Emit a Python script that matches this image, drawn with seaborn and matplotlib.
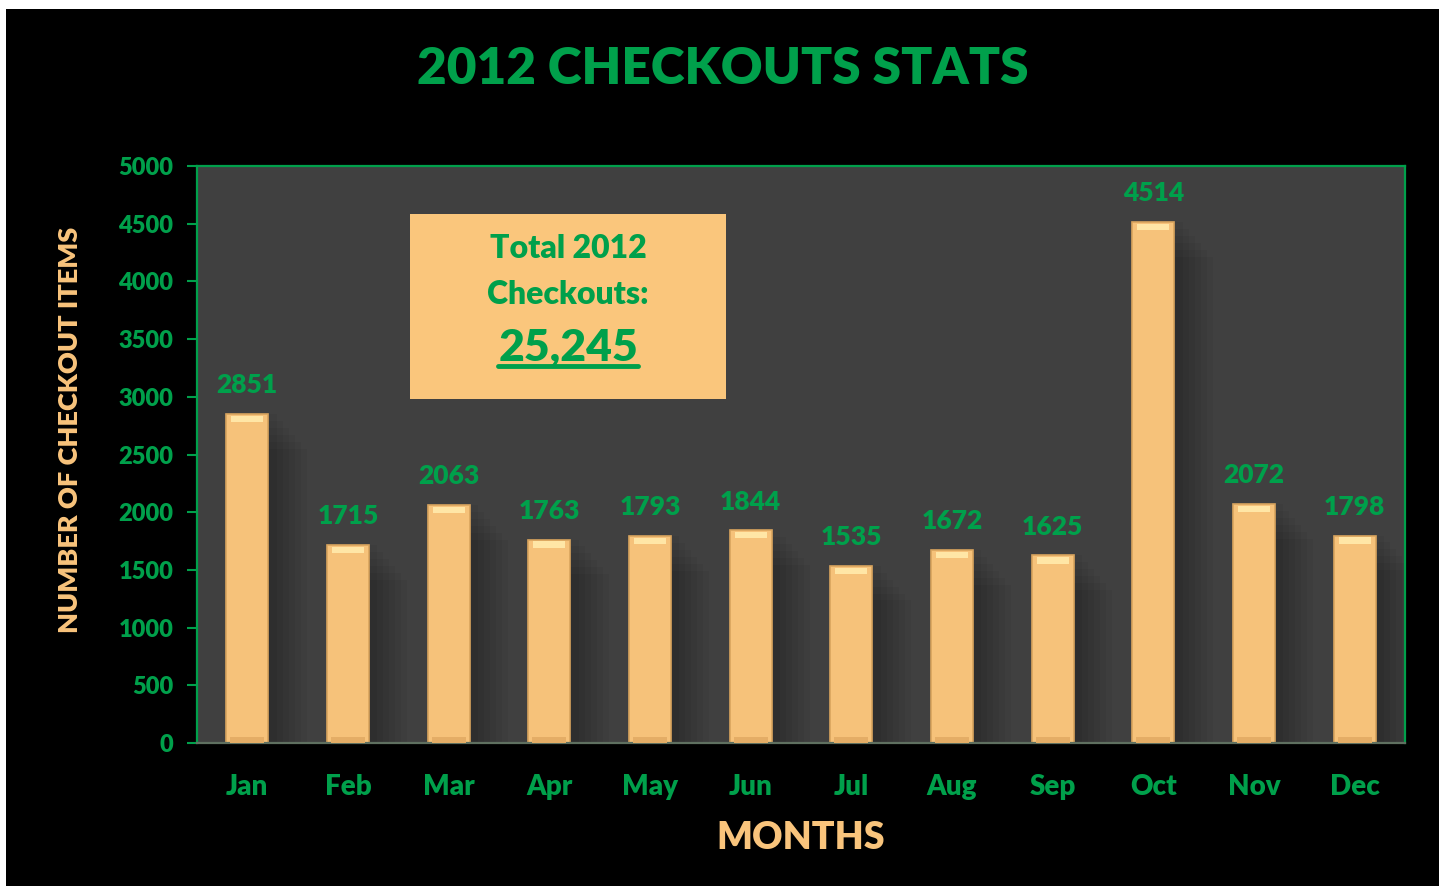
import numpy as np
import pandas as pd
import matplotlib.pyplot as plt
import seaborn as sns
from matplotlib.patches import Rectangle
from matplotlib.lines import Line2D

# ---------------------------------------------------------
# Data
# ---------------------------------------------------------
months = ["Jan", "Feb", "Mar", "Apr", "May", "Jun",
          "Jul", "Aug", "Sep", "Oct", "Nov", "Dec"]
checkouts = [2851, 1715, 2063, 1763, 1793, 1844,
             1535, 1672, 1625, 4514, 2072, 1798]
yticks = list(range(0, 5001, 500))

df = pd.DataFrame({"month": months, "checkouts": checkouts})
total = df["checkouts"].sum()

GREEN = "#00A04B"
ORANGE = "#F9C47C"
BAR = "#F6C27A"
BAR_EDGE = "#D9A45E"
BAR_TOP = "#FFE6A6"
PLOT_BG = "#404040"
WEIGHT = "heavy"

sns.set_style("dark")
plt.rcParams["font.family"] = ["Lato", "DejaVu Sans"]
plt.rcParams["font.weight"] = WEIGHT

W, H = 1444, 886
fig = plt.figure(figsize=(W / 100, H / 100), dpi=100)
fig.patch.set_facecolor("white")
fig.add_artist(Rectangle((6 / W, 0), (1439 - 6) / W, 1 - 9 / H,
                         transform=fig.transFigure, facecolor="black",
                         edgecolor="none", zorder=-10))

ax = fig.add_axes([197 / W, 1 - 743 / H, (1405 - 197) / W, (743 - 166) / H])
ax.set_facecolor(PLOT_BG)

x = np.arange(len(months))
vals = df["checkouts"].to_numpy()

# soft shadow behind the bars
for k in range(6):
    ax.bar(x + 0.08 + 0.035 * k, vals - 60 * k, width=0.42 + 0.05 * k,
           color="black", alpha=0.045, linewidth=0, zorder=1)

# main bars
sns.barplot(data=df, x="month", y="checkouts", color=BAR, saturation=1,
            width=0.42, edgecolor=BAR_EDGE, linewidth=1.2, ax=ax, zorder=2)
main = ax.containers[-1]

# bevel look: lighter top strip, darker bottom strip
ax.bar(x, [55] * len(x), bottom=vals - 70, width=0.32,
       color=BAR_TOP, linewidth=0, zorder=3)
ax.bar(x, [50] * len(x), bottom=0, width=0.34,
       color="#E4AD66", linewidth=0, zorder=3)

ax.bar_label(main, labels=[str(v) for v in vals], padding=12,
             color=GREEN, fontsize=19, fontweight=WEIGHT)

ax.set_xlim(-0.5, len(months) - 0.5)
ax.set_ylim(0, 5000)
ax.set_yticks(yticks)
ax.set_yticklabels([str(t) for t in yticks])
ax.set_xlabel("")
ax.set_ylabel("")
ax.grid(False)

ax.tick_params(axis="y", colors=GREEN, labelsize=17, length=7, width=1.5,
               direction="out", pad=10, left=True)
ax.tick_params(axis="x", colors=GREEN, labelsize=20, length=0, pad=22)
for lab in ax.get_xticklabels() + ax.get_yticklabels():
    lab.set_fontweight(WEIGHT)

for side in ["top", "right", "left"]:
    ax.spines[side].set_color(GREEN)
    ax.spines[side].set_linewidth(1.6)
    ax.spines[side].set_visible(True)
ax.spines["bottom"].set_color("#5F7060")
ax.spines["bottom"].set_linewidth(1.6)
ax.spines["bottom"].set_visible(True)

# titles
fig.text(723 / W, 1 - 69 / H, "2012 CHECKOUTS STATS", color=GREEN,
         fontsize=37, fontweight=WEIGHT, ha="center", va="center")
fig.text(70 / W, 1 - 430 / H, "NUMBER OF CHECKOUT ITEMS", color=ORANGE,
         fontsize=19.5, fontweight=WEIGHT, rotation=90,
         ha="center", va="center")
fig.text(801 / W, 1 - 838 / H, "MONTHS", color=ORANGE,
         fontsize=27, fontweight=WEIGHT, ha="center", va="center")

# total box
fig.add_artist(Rectangle((410 / W, 1 - 399 / H), (726 - 410) / W,
                         (399 - 214) / H, transform=fig.transFigure,
                         facecolor="#FAC67C", edgecolor="none", zorder=5))
fig.text(568 / W, 1 - 249 / H, "Total 2012", color=GREEN, fontsize=23,
         fontweight=WEIGHT, ha="center", va="center", zorder=6)
fig.text(568 / W, 1 - 295 / H, "Checkouts:", color=GREEN, fontsize=23,
         fontweight=WEIGHT, ha="center", va="center", zorder=6)
tot = fig.text(568 / W, 1 - 347 / H, f"{total:,}", color=GREEN, fontsize=32,
               fontweight=WEIGHT, ha="center", va="center", zorder=6)

renderer = fig.canvas.get_renderer()
bb = tot.get_window_extent(renderer)
uy = bb.y0 + 1
fig.add_artist(Line2D([bb.x0 / W, bb.x1 / W], [uy / H, uy / H],
                      transform=fig.transFigure, color=GREEN,
                      linewidth=3.5, zorder=6))

fig.savefig("out.png", dpi=100, facecolor=fig.get_facecolor())
